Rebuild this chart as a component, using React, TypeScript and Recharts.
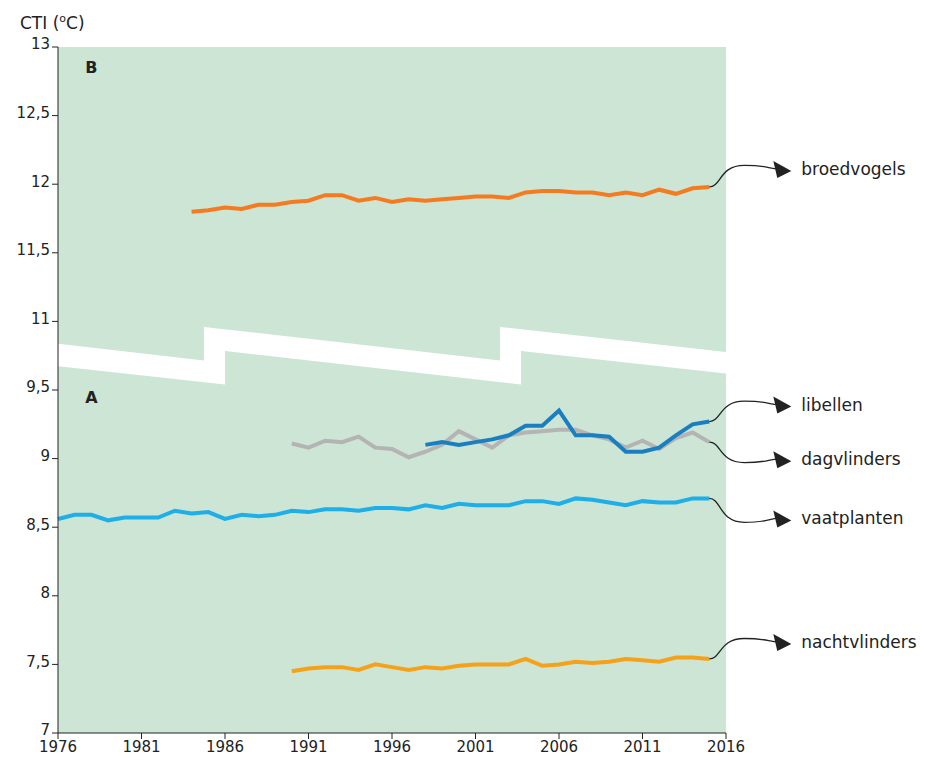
import React from "react";
import {
  ComposedChart,
  Line,
  XAxis,
  YAxis,
  CartesianGrid,
  ReferenceArea,
  ReferenceDot,
} from "recharts";

// Values in the B part (broedvogels) are plotted 1.0 lower: the axis is broken.
const OFFSET = 1;

const broedvogelsStart = 1984;
const broedvogels = [
  11.8, 11.81, 11.83, 11.82, 11.85, 11.85, 11.87, 11.88, 11.92, 11.92, 11.88, 11.9, 11.87, 11.89, 11.88, 11.89,
  11.9, 11.91, 11.91, 11.9, 11.94, 11.95, 11.95, 11.94, 11.94, 11.92, 11.94, 11.92, 11.96, 11.93, 11.97, 11.98,
];
const vaatplantenStart = 1976;
const vaatplanten = [
  8.56, 8.59, 8.59, 8.55, 8.57, 8.57, 8.57, 8.62, 8.6, 8.61, 8.56, 8.59, 8.58, 8.59, 8.62, 8.61, 8.63, 8.63, 8.62, 8.64,
  8.64, 8.63, 8.66, 8.64, 8.67, 8.66, 8.66, 8.66, 8.69, 8.69, 8.67, 8.71, 8.7, 8.68, 8.66, 8.69, 8.68, 8.68, 8.71, 8.71,
];
const nachtvlindersStart = 1990;
const nachtvlinders = [
  7.45, 7.47, 7.48, 7.48, 7.46, 7.5, 7.48, 7.46, 7.48, 7.47, 7.49, 7.5, 7.5, 7.5, 7.54, 7.49, 7.5, 7.52, 7.51, 7.52,
  7.54, 7.53, 7.52, 7.55, 7.55, 7.54,
];
const dagvlindersStart = 1990;
const dagvlinders = [
  9.11, 9.08, 9.13, 9.12, 9.16, 9.08, 9.07, 9.01, 9.05, 9.1, 9.2, 9.14, 9.08, 9.17, 9.19, 9.2, 9.21, 9.21, 9.17, 9.14,
  9.08, 9.13, 9.07, 9.15, 9.19, 9.12,
];
const libellenStart = 1998;
const libellen = [9.1, 9.12, 9.1, 9.12, 9.14, 9.17, 9.24, 9.24, 9.35, 9.17, 9.17, 9.16, 9.05, 9.05, 9.08, 9.17, 9.25, 9.27];

const xTicks = [1976, 1981, 1986, 1991, 1996, 2001, 2006, 2011, 2016];
const yTicks = [7, 7.5, 8, 8.5, 9, 9.5, 10, 10.5, 11, 11.5, 12];

const pick = (arr: number[], start: number, year: number, shift = 0) => {
  const i = year - start;
  return i >= 0 && i < arr.length ? arr[i] - shift : undefined;
};

const data = Array.from({ length: 40 }, (_, k) => {
  const year = 1976 + k;
  return {
    year,
    broedvogels: pick(broedvogels, broedvogelsStart, year, OFFSET),
    vaatplanten: pick(vaatplanten, vaatplantenStart, year),
    nachtvlinders: pick(nachtvlinders, nachtvlindersStart, year),
    dagvlinders: pick(dagvlinders, dagvlindersStart, year),
    libellen: pick(libellen, libellenStart, year),
  };
});

const FONT = "'DejaVu Sans', sans-serif";

const fmtY = (v: number) => String(v >= 10 ? v + OFFSET : v).replace(".", ",");

// white zigzag break strip
const BreakShape = (props: any) => {
  const { x, y, width } = props;
  const s = width / 668;
  const p = (px: number, py: number) => `${x + px * s},${y + py}`;
  const pts = [
    p(-2, 16.5), p(146, 33.5), p(146, 0), p(442, 33.5), p(442, 0), p(668, 25),
    p(668, 46.5), p(463, 24), p(463, 57.5), p(167, 24), p(167, 57.5), p(-2, 39),
  ].join(" ");
  return <polygon points={pts} fill="#fff" />;
};

const arrowLabel = (text: string, dy: number) => (props: any) => {
  const vb = props.viewBox || {};
  const x0 = vb.x + (vb.width || 0) / 2;
  const y0 = vb.y + (vb.height || 0) / 2;
  const ex = x0 + 70;
  const ey = y0 + dy;
  const c1y = y0 + dy * 1.2;
  return (
    <g>
      <path
        d={`M${x0},${y0} C${x0 + 12},${y0} ${x0 + 10},${c1y} ${x0 + 35},${c1y} S${ex - 12},${ey} ${ex},${ey}`}
        fill="none"
        stroke="#222"
        strokeWidth={1.3}
      />
      <polygon points={`${ex + 12},${ey + 2} ${ex - 6},${ey - 8} ${ex - 2},${ey + 9}`} fill="#222" />
      <text x={ex + 22} y={ey} dy={6} fontFamily={FONT} fontSize={17} fill="#222">
        {text}
      </text>
    </g>
  );
};

const lines = [
  { key: "broedvogels", color: "#f47b20", start: broedvogelsStart, arr: broedvogels, shift: OFFSET, dy: -18 },
  { key: "nachtvlinders", color: "#f5a21b", start: nachtvlindersStart, arr: nachtvlinders, shift: 0, dy: -17 },
  { key: "vaatplanten", color: "#1eaee8", start: vaatplantenStart, arr: vaatplanten, shift: 0, dy: 20 },
  { key: "dagvlinders", color: "#b4b4b4", start: dagvlindersStart, arr: dagvlinders, shift: 0, dy: 17 },
  { key: "libellen", color: "#1a7fc1", start: libellenStart, arr: libellen, shift: 0, dy: -17 },
];

export default function App() {
  return (
    <div style={{ position: "relative", width: 917, height: 758 }}>
      <div style={{ position: "absolute", left: 12, top: 4, fontFamily: FONT, fontSize: 17, color: "#222" }}>
        CTI (<sup style={{ fontSize: 11 }}>o</sup>C)
      </div>
      <ComposedChart width={917} height={758} data={data} margin={{ top: 39, right: 199, left: 0, bottom: 3 }}>
        <CartesianGrid fill="#cce5d5" horizontal={false} vertical={false} stroke="none" />
        <XAxis
          dataKey="year"
          type="number"
          domain={[1976, 2016]}
          ticks={xTicks}
          height={30}
          tick={{ fill: "#222", fontSize: 15, fontFamily: FONT }}
          tickSize={6}
          stroke="#222"
        />
        <YAxis
          type="number"
          domain={[7, 12]}
          ticks={yTicks}
          tickFormatter={fmtY}
          width={50}
          tick={{ fill: "#222", fontSize: 15, fontFamily: FONT, dy: -3 }}
          tickSize={6}
          stroke="#222"
        />
        <ReferenceArea x1={1976} x2={2016} y1={9.6} y2={9.96} shape={<BreakShape />} ifOverflow="visible" />
        {lines.map((l) => (
          <Line
            key={l.key}
            dataKey={l.key}
            stroke={l.color}
            strokeWidth={4}
            dot={false}
            isAnimationActive={false}
            connectNulls={false}
          />
        ))}
        {lines.map((l) => (
          <ReferenceDot
            key={"d" + l.key}
            x={l.start + l.arr.length - 1}
            y={l.arr[l.arr.length - 1] - l.shift}
            r={0}
            fill="none"
            stroke="none"
            ifOverflow="visible"
            label={arrowLabel(l.key, l.dy)}
          />
        ))}
        <ReferenceDot x={1978} y={11.85} r={0} stroke="none" fill="none"
          label={{ value: "B", fill: "#222", fontSize: 16, fontWeight: "bold", fontFamily: FONT }} />
        <ReferenceDot x={1978} y={9.45} r={0} stroke="none" fill="none"
          label={{ value: "A", fill: "#222", fontSize: 16, fontWeight: "bold", fontFamily: FONT }} />
      </ComposedChart>
    </div>
  );
}
